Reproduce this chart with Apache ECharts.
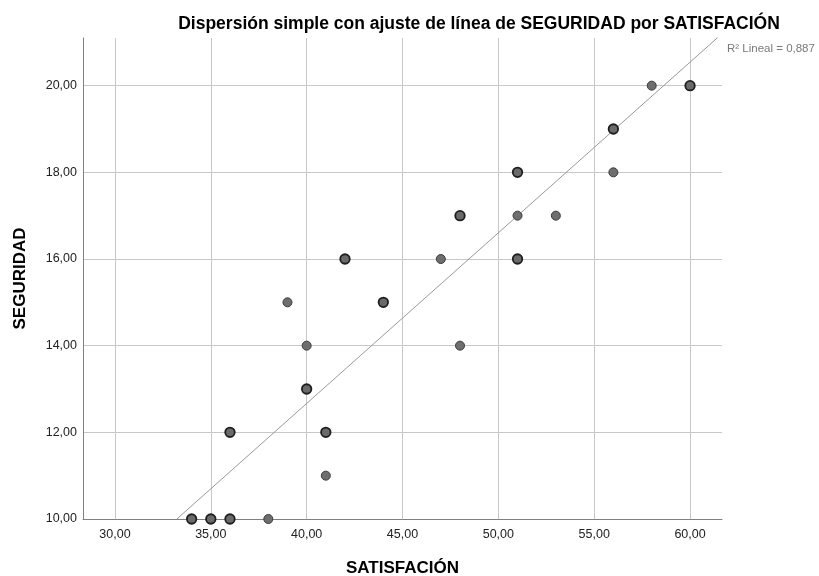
<!DOCTYPE html>
<html>
<head>
<meta charset="utf-8">
<script src="https://cdn.jsdelivr.net/npm/echarts@6/dist/echarts.min.js"></script>
<style>html,body{margin:0;padding:0;background:#fff}#c{width:819px;height:576px}</style>
</head>
<body>
<div id="c"></div>
<script>
// Data
const xTicks = [30, 35, 40, 45, 50, 55, 60];
const yTicks = [10, 12, 14, 16, 18, 20];
// single observations
const singleX = [38, 41, 40, 39, 47, 48, 51, 53, 56, 58];
const singleY = [10, 11, 14, 15, 16, 14, 17, 17, 18, 20];
// overlapping (repeated) observations
const multiX = [34, 35, 36, 36, 41, 40, 44, 42, 48, 51, 51, 56, 60];
const multiY = [10, 10, 10, 12, 12, 13, 15, 16, 17, 16, 18, 19, 20];
// fit line endpoints
const fitX = [33.23, 61.67];
const fitY = [10, 21.2];
const r2Text = 'R² Lineal = 0,887';

const fmt = v => v.toFixed(2).replace('.', ',');
const chart = echarts.init(document.getElementById('c'));
const FONT = 'Liberation Sans';
chart.setOption({
  animation: false,
  backgroundColor: '#fff',
  textStyle: { fontFamily: FONT },
  title: {
    text: 'Dispersión simple con ajuste de línea de SEGURIDAD por SATISFACIÓN',
    left: 474, top: 10, textAlign: 'center',
    textStyle: { fontFamily: FONT, fontSize: 17.5, fontWeight: 'bold', color: '#000' }
  },
  grid: { left: 83, right: 97, top: 38, bottom: 57, containLabel: false, outerBoundsMode: 'none' },
  xAxis: {
    type: 'value', min: 28.333, max: 61.667,
    name: 'SATISFACIÓN', nameLocation: 'middle', nameGap: 41,
    nameTextStyle: { fontFamily: FONT, fontSize: 17, fontWeight: 'bold', color: '#000' },
    axisLine: { show: true, lineStyle: { color: '#808080', width: 1 } },
    axisTick: { show: false, customValues: xTicks },
    axisLabel: { customValues: xTicks, formatter: fmt, color: '#222', fontSize: 12.5, margin: 9 },
    splitLine: { show: true, lineStyle: { color: '#c8c8c8', width: 1 } }
  },
  yAxis: {
    type: 'value', min: 10, max: 21.1,
    name: 'SEGURIDAD', nameLocation: 'middle', nameGap: 54,
    nameTextStyle: { fontFamily: FONT, fontSize: 17, fontWeight: 'bold', color: '#000' },
    axisLine: { show: true, lineStyle: { color: '#808080', width: 1 } },
    axisTick: { show: false, customValues: yTicks },
    axisLabel: { customValues: yTicks, formatter: fmt, color: '#222', fontSize: 12.5, margin: 6 },
    splitLine: { show: true, lineStyle: { color: '#c8c8c8', width: 1 } }
  },
  series: [
    {
      type: 'line', data: fitX.map((x, i) => [x, fitY[i]]),
      symbol: 'none', clip: true, silent: true,
      lineStyle: { color: '#999', width: 1 }, z: 1
    },
    {
      type: 'scatter', data: singleX.map((x, i) => [x, singleY[i]]),
      symbolSize: 9,
      itemStyle: { color: '#6e6e6e', borderColor: '#3a3a3a', borderWidth: 1, opacity: 1 }, z: 3
    },
    {
      type: 'scatter', data: multiX.map((x, i) => [x, multiY[i]]),
      symbolSize: 9.5,
      itemStyle: { color: '#6a6a6a', borderColor: '#1e1e1e', borderWidth: 1.8, opacity: 1 }, z: 3
    }
  ],
  graphic: [
    { type: 'text', left: 727, top: 43, style: { text: r2Text, fill: '#7a7a7a', font: '11.5px "Liberation Sans"' } }
  ]
});
</script>
</body>
</html>
